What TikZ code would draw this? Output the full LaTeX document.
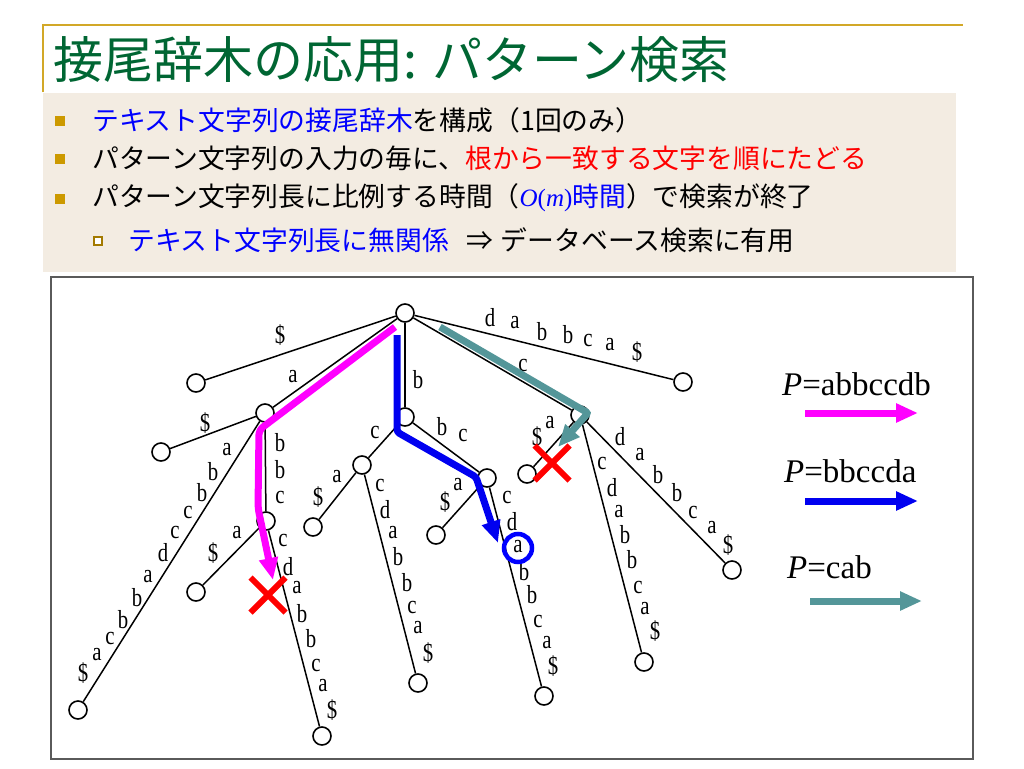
\documentclass[tikz,border=0pt]{standalone}
\usepackage{fontspec}
\setmainfont{Liberation Serif}
\newfontfamily\jp{Noto Sans CJK JP}
\usetikzlibrary{arrows.meta,shapes.misc}
\definecolor{titlegreen}{RGB}{0,102,51}
\definecolor{goldline}{RGB}{210,168,40}
\definecolor{band}{RGB}{243,236,226}
\definecolor{bul}{RGB}{204,153,0}
\definecolor{pinkpath}{RGB}{255,0,255}
\definecolor{bluepath}{RGB}{0,0,240}
\definecolor{tealpath}{RGB}{84,150,153}
\definecolor{jblue}{RGB}{0,0,255}
\definecolor{jred}{RGB}{255,0,0}
\definecolor{framegray}{RGB}{90,90,90}
\tikzset{
  vert/.style={circle,draw,fill=white,line width=1.6pt,minimum size=18pt,inner sep=0pt},
  treeedge/.style={line width=1.5pt},
  lab/.style={font=\fontsize{26}{26}\selectfont,inner sep=0pt},
  bodytext/.style={anchor=west,inner sep=0pt,font=\jp\fontsize{26.8}{30}\selectfont},
  legtext/.style={anchor=base west,inner sep=0pt,font=\fontsize{33}{36}\selectfont},
  hl/.style={line width=7pt,-{Triangle[length=22pt,width=18pt]}},
  bulletsq/.style={fill=bul,minimum size=10pt,inner sep=0pt},
  subbullet/.style={draw=bul!80!black,fill=white,line width=1.2pt,minimum size=8pt,inner sep=0pt},
  xmark/.style={cross out,draw=jred,line width=6pt,minimum size=29pt,inner sep=0pt},
}
\begin{document}
\begin{tikzpicture}[x=1pt,y=-1pt]
\useasboundingbox (0,0) rectangle (1024,768);
% header
\fill[band] (43,93) rectangle (956,272);
\draw[goldline,line width=2.5pt] (43,92) -- (43,25) -- (963,25);
\node[anchor=west,inner sep=0pt,text=titlegreen,font=\jp\fontsize{50}{55}\selectfont] (title) at (53,60) {接尾辞木の応用: パターン検索};
\node[bulletsq] (b1) at (60,121) {};
\node[bulletsq] (b2) at (60,159) {};
\node[bulletsq] (b3) at (60,199) {};
\node[subbullet] (b4) at (98,241) {};
\node[bodytext] (t1) at (92,120) {\textcolor{jblue}{テキスト文字列の接尾辞木}を構成（1回のみ）};
\node[bodytext] (t2) at (92,158) {パターン文字列の入力の毎に、\textcolor{jred}{根から一致する文字を順にたどる}};
\node[bodytext] (t3) at (92,198) {パターン文字列長に比例する時間（\textcolor{jblue}{{\rmfamily\fontsize{25}{30}\selectfont\textit{O}(\textit{m})}時間}）で検索が終了};
\node[bodytext] (t4) at (128,240) {\textcolor{jblue}{テキスト文字列長に無関係}};
\node[bodytext] (t5) at (466,240) {⇒\hspace{8pt}データベース検索に有用};
% frame
\draw[framegray,line width=1.5pt] (51,277) rectangle (973,759);
% tree vertices
\node[vert] (r) at (405,313) {};
\node[vert] (l1) at (196,383) {};
\node[vert] (A) at (265,413) {};
\node[vert] (l2) at (161,452) {};
\node[vert] (lA) at (78,710) {};
\node[vert] (Ab) at (266,521) {};
\node[vert] (lAb1) at (196,592) {};
\node[vert] (lAb2) at (322,736) {};
\node[vert] (B) at (405,417) {};
\node[vert] (Bc) at (362,465) {};
\node[vert] (lBc1) at (313,527) {};
\node[vert] (lBc2) at (418,683) {};
\node[vert] (Bbc) at (487,478) {};
\node[vert] (lBbc1) at (436,535) {};
\node[vert] (lBbc2) at (544,696) {};
\node[vert] (C) at (580,415) {};
\node[vert] (lC1) at (527,474) {};
\node[vert] (lC2) at (644,662) {};
\node[vert] (lC3) at (732,570) {};
\node[vert] (lD) at (683,382) {};
% tree edges
\foreach \u/\v in {r/l1, r/A, r/B, r/C, r/lD, A/l2, A/lA, A/Ab, Ab/lAb1, Ab/lAb2,
  B/Bc, B/Bbc, Bc/lBc1, Bc/lBc2, Bbc/lBbc1, Bbc/lBbc2, C/lC1, C/lC2, C/lC3}
  \draw[treeedge] (\u) -- (\v);
% edge labels
\foreach \t/\x/\y [count=\i] in {
  \$/280/335, a/293/377, \$/205/423,
  b/280/443, b/280/470, c/280/497,
  a/227/450, b/213/472, b/202/493, c/188/512, c/175/532, d/163/553, a/148/577, b/137/598, b/123/620, c/110/638, a/97/655, \$/83/673,
  a/237/533, \$/213/553,
  c/283/540, d/288/567, a/297/588, b/302/614, b/311/639, c/316/665, a/323/686, \$/332/710,
  b/418/380, c/375/432, b/442/427, c/463/435,
  a/337/477, \$/318/497,
  c/380/485, d/385/510, a/393/533, b/398/557, b/407/583, c/412/607, a/418/628, \$/428/653,
  a/458/485, \$/445/502,
  c/507/497, d/512/522, a/518/547, b/524/572, b/532/595, c/538/621, a/547/643, \$/553/666,
  c/523/365,
  d/490/318, a/515/323, b/542/332, b/568/335, c/588/340, a/610/345, \$/637/352,
  a/550/423, \$/537/437,
  c/602/463, d/612/488, a/619/512, b/625/535, b/632/560, c/638/587, a/645/609, \$/655/631,
  d/620/437, a/640/455, b/658/475, b/677/493, c/693/512, a/712/528, \$/728/545}
  \node[lab] (lab\i) at (\x,\y) {\scalebox{0.8}[1]{\t}};
% search paths
\coordinate (p0) at (395,327); \coordinate (p1) at (259,430); \coordinate (p2) at (258,508); \coordinate (p3) at (273,580);
\draw[hl,draw=pinkpath,rounded corners=5pt] (p0) -- (p1) -- (p2) -- (p3);
\coordinate (q0) at (397,335); \coordinate (q1) at (397,432); \coordinate (q2) at (476,477); \coordinate (q3) at (498,543);
\draw[hl,draw=bluepath,rounded corners=3pt] (q0) -- (q1) -- (q2) -- (q3);
\coordinate (s0) at (440,327); \coordinate (s1) at (588,413); \coordinate (s2) at (558,447);
\draw[hl,draw=tealpath,rounded corners=2pt] (s0) -- (s1) -- (s2);
% marks
\node[xmark] (x1) at (268,595) {};
\node[xmark] (x2) at (552,463) {};
\node[circle,draw=jblue,line width=4.5pt,minimum size=28pt,inner sep=0pt] (hit) at (518,548) {};
% legend
\node[legtext] (g1) at (782,395) {\textit{P}=abbccdb};
\coordinate (g1a) at (805,413); \coordinate (g1b) at (918,413);
\draw[hl,draw=pinkpath] (g1a) -- (g1b);
\node[legtext] (g2) at (784,482) {\textit{P}=bbccda};
\coordinate (g2a) at (805,501); \coordinate (g2b) at (918,501);
\draw[hl,draw=bluepath] (g2a) -- (g2b);
\node[legtext] (g3) at (787,578) {\textit{P}=cab};
\coordinate (g3a) at (810,601); \coordinate (g3b) at (922,601);
\draw[hl,draw=tealpath] (g3a) -- (g3b);
\end{tikzpicture}
\end{document}
